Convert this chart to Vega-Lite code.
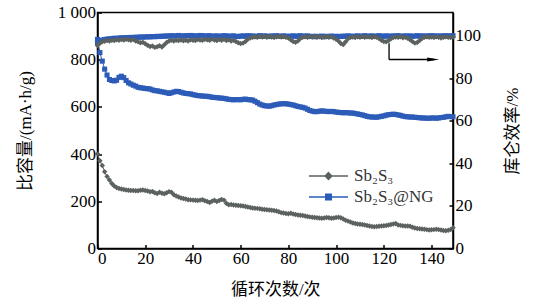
{
  "$schema": "https://vega.github.io/schema/vega-lite/v6.json",
  "width": 355.5,
  "height": 236,
  "autosize": {"type": "none"},
  "padding": {"left": 97.5, "top": 12.5, "right": 81, "bottom": 51.5},
  "background": "white",
  "config": {
    "view": {"stroke": "black", "strokeWidth": 1.5},
    "font": "Liberation Serif",
    "axis": {
      "domainColor": "black", "domainWidth": 1.5, "tickColor": "black", "tickWidth": 1.5,
      "tickSize": -4, "grid": false, "labelFont": "Liberation Serif", "labelFontSize": 17,
      "labelColor": "black", "titleFont": "Liberation Serif, Noto Sans CJK SC", "titleFontSize": 17,
      "titleFontWeight": "normal", "titleColor": "black"
    },
    "legend": {"labelFont": "Liberation Serif", "labelFontSize": 17, "labelColor": "#333"}
  },
  "datasets": {
    "arrow": [
      {"n": 122.2, "n2": 122.2, "ce": 96.5, "ce2": 88.9},
      {"n": 122.2, "n2": 141, "ce": 88.9, "ce2": 88.9}
    ],
    "head": [{"n": 140.7, "ce": 88.9}]
  },
  "data": {"values": [
{"n":0,"s":"Sb₂S₃@NG","cap":886,"ce":96.8},{"n":1,"s":"Sb₂S₃@NG","cap":830,"ce":97.6},{"n":2,"s":"Sb₂S₃@NG","cap":794,"ce":98.0},{"n":3,"s":"Sb₂S₃@NG","cap":760,"ce":98.3},{"n":4,"s":"Sb₂S₃@NG","cap":735,"ce":98.5},{"n":5,"s":"Sb₂S₃@NG","cap":716,"ce":98.6},{"n":6,"s":"Sb₂S₃@NG","cap":712,"ce":98.7},{"n":7,"s":"Sb₂S₃@NG","cap":710,"ce":98.9},{"n":8,"s":"Sb₂S₃@NG","cap":713,"ce":98.8},{"n":9,"s":"Sb₂S₃@NG","cap":725,"ce":99.0},
{"n":10,"s":"Sb₂S₃@NG","cap":730,"ce":99.1},{"n":11,"s":"Sb₂S₃@NG","cap":724,"ce":99.0},{"n":12,"s":"Sb₂S₃@NG","cap":712,"ce":99.2},{"n":13,"s":"Sb₂S₃@NG","cap":702,"ce":99.1},{"n":14,"s":"Sb₂S₃@NG","cap":697,"ce":99.3},{"n":15,"s":"Sb₂S₃@NG","cap":692,"ce":99.2},{"n":16,"s":"Sb₂S₃@NG","cap":688,"ce":99.4},{"n":17,"s":"Sb₂S₃@NG","cap":683,"ce":99.3},{"n":18,"s":"Sb₂S₃@NG","cap":681,"ce":99.5},{"n":19,"s":"Sb₂S₃@NG","cap":680,"ce":99.4},
{"n":20,"s":"Sb₂S₃@NG","cap":678,"ce":99.5},{"n":21,"s":"Sb₂S₃@NG","cap":677,"ce":99.6},{"n":22,"s":"Sb₂S₃@NG","cap":676,"ce":99.5},{"n":23,"s":"Sb₂S₃@NG","cap":672,"ce":99.7},{"n":24,"s":"Sb₂S₃@NG","cap":669,"ce":99.6},{"n":25,"s":"Sb₂S₃@NG","cap":668,"ce":99.8},{"n":26,"s":"Sb₂S₃@NG","cap":666,"ce":99.7},{"n":27,"s":"Sb₂S₃@NG","cap":664,"ce":99.9},{"n":28,"s":"Sb₂S₃@NG","cap":662,"ce":99.8},{"n":29,"s":"Sb₂S₃@NG","cap":660,"ce":100.0},
{"n":30,"s":"Sb₂S₃@NG","cap":657,"ce":99.9},{"n":31,"s":"Sb₂S₃@NG","cap":660,"ce":100.1},{"n":32,"s":"Sb₂S₃@NG","cap":663,"ce":99.9},{"n":33,"s":"Sb₂S₃@NG","cap":666,"ce":100.0},{"n":34,"s":"Sb₂S₃@NG","cap":665,"ce":100.2},{"n":35,"s":"Sb₂S₃@NG","cap":662,"ce":100.0},{"n":36,"s":"Sb₂S₃@NG","cap":659,"ce":99.9},{"n":37,"s":"Sb₂S₃@NG","cap":657,"ce":100.1},{"n":38,"s":"Sb₂S₃@NG","cap":656,"ce":100.0},{"n":39,"s":"Sb₂S₃@NG","cap":655,"ce":100.2},
{"n":40,"s":"Sb₂S₃@NG","cap":652,"ce":100.1},{"n":41,"s":"Sb₂S₃@NG","cap":650,"ce":99.9},{"n":42,"s":"Sb₂S₃@NG","cap":648,"ce":100.0},{"n":43,"s":"Sb₂S₃@NG","cap":647,"ce":100.2},{"n":44,"s":"Sb₂S₃@NG","cap":646,"ce":100.1},{"n":45,"s":"Sb₂S₃@NG","cap":645,"ce":99.9},{"n":46,"s":"Sb₂S₃@NG","cap":645,"ce":100.0},{"n":47,"s":"Sb₂S₃@NG","cap":643,"ce":100.1},{"n":48,"s":"Sb₂S₃@NG","cap":641,"ce":99.8},{"n":49,"s":"Sb₂S₃@NG","cap":640,"ce":99.9},
{"n":50,"s":"Sb₂S₃@NG","cap":639,"ce":100.0},{"n":51,"s":"Sb₂S₃@NG","cap":638,"ce":99.8},{"n":52,"s":"Sb₂S₃@NG","cap":637,"ce":99.9},{"n":53,"s":"Sb₂S₃@NG","cap":636,"ce":100.1},{"n":54,"s":"Sb₂S₃@NG","cap":634,"ce":100.0},{"n":55,"s":"Sb₂S₃@NG","cap":632,"ce":99.8},{"n":56,"s":"Sb₂S₃@NG","cap":631,"ce":99.9},{"n":57,"s":"Sb₂S₃@NG","cap":630,"ce":100.0},{"n":58,"s":"Sb₂S₃@NG","cap":631,"ce":99.8},{"n":59,"s":"Sb₂S₃@NG","cap":631,"ce":99.7},
{"n":60,"s":"Sb₂S₃@NG","cap":630,"ce":99.9},{"n":61,"s":"Sb₂S₃@NG","cap":632,"ce":100.0},{"n":62,"s":"Sb₂S₃@NG","cap":633,"ce":99.8},{"n":63,"s":"Sb₂S₃@NG","cap":631,"ce":100.1},{"n":64,"s":"Sb₂S₃@NG","cap":630,"ce":99.9},{"n":65,"s":"Sb₂S₃@NG","cap":629,"ce":100.0},{"n":66,"s":"Sb₂S₃@NG","cap":624,"ce":99.7},{"n":67,"s":"Sb₂S₃@NG","cap":618,"ce":99.9},{"n":68,"s":"Sb₂S₃@NG","cap":612,"ce":100.1},{"n":69,"s":"Sb₂S₃@NG","cap":608,"ce":99.8},
{"n":70,"s":"Sb₂S₃@NG","cap":605,"ce":100.0},{"n":71,"s":"Sb₂S₃@NG","cap":604,"ce":99.9},{"n":72,"s":"Sb₂S₃@NG","cap":603,"ce":99.7},{"n":73,"s":"Sb₂S₃@NG","cap":605,"ce":100.0},{"n":74,"s":"Sb₂S₃@NG","cap":608,"ce":99.8},{"n":75,"s":"Sb₂S₃@NG","cap":610,"ce":100.1},{"n":76,"s":"Sb₂S₃@NG","cap":612,"ce":99.9},{"n":77,"s":"Sb₂S₃@NG","cap":613,"ce":99.8},{"n":78,"s":"Sb₂S₃@NG","cap":614,"ce":100.0},{"n":79,"s":"Sb₂S₃@NG","cap":613,"ce":99.9},
{"n":80,"s":"Sb₂S₃@NG","cap":612,"ce":99.7},{"n":81,"s":"Sb₂S₃@NG","cap":610,"ce":99.9},{"n":82,"s":"Sb₂S₃@NG","cap":608,"ce":100.0},{"n":83,"s":"Sb₂S₃@NG","cap":605,"ce":99.8},{"n":84,"s":"Sb₂S₃@NG","cap":602,"ce":99.9},{"n":85,"s":"Sb₂S₃@NG","cap":600,"ce":100.1},{"n":86,"s":"Sb₂S₃@NG","cap":598,"ce":99.8},{"n":87,"s":"Sb₂S₃@NG","cap":595,"ce":99.9},{"n":88,"s":"Sb₂S₃@NG","cap":590,"ce":100.0},{"n":89,"s":"Sb₂S₃@NG","cap":585,"ce":99.7},
{"n":90,"s":"Sb₂S₃@NG","cap":582,"ce":99.8},{"n":91,"s":"Sb₂S₃@NG","cap":580,"ce":99.6},{"n":92,"s":"Sb₂S₃@NG","cap":580,"ce":99.8},{"n":93,"s":"Sb₂S₃@NG","cap":582,"ce":99.7},{"n":94,"s":"Sb₂S₃@NG","cap":583,"ce":99.9},{"n":95,"s":"Sb₂S₃@NG","cap":582,"ce":99.6},{"n":96,"s":"Sb₂S₃@NG","cap":581,"ce":99.8},{"n":97,"s":"Sb₂S₃@NG","cap":580,"ce":99.7},{"n":98,"s":"Sb₂S₃@NG","cap":581,"ce":99.9},{"n":99,"s":"Sb₂S₃@NG","cap":580,"ce":99.8},
{"n":100,"s":"Sb₂S₃@NG","cap":578,"ce":99.6},{"n":101,"s":"Sb₂S₃@NG","cap":577,"ce":99.8},{"n":102,"s":"Sb₂S₃@NG","cap":576,"ce":99.7},{"n":103,"s":"Sb₂S₃@NG","cap":575,"ce":99.9},{"n":104,"s":"Sb₂S₃@NG","cap":576,"ce":99.8},{"n":105,"s":"Sb₂S₃@NG","cap":575,"ce":100.0},{"n":106,"s":"Sb₂S₃@NG","cap":574,"ce":99.9},{"n":107,"s":"Sb₂S₃@NG","cap":574,"ce":99.7},{"n":108,"s":"Sb₂S₃@NG","cap":572,"ce":99.9},{"n":109,"s":"Sb₂S₃@NG","cap":570,"ce":100.0},
{"n":110,"s":"Sb₂S₃@NG","cap":568,"ce":99.8},{"n":111,"s":"Sb₂S₃@NG","cap":566,"ce":99.9},{"n":112,"s":"Sb₂S₃@NG","cap":563,"ce":100.1},{"n":113,"s":"Sb₂S₃@NG","cap":560,"ce":99.8},{"n":114,"s":"Sb₂S₃@NG","cap":558,"ce":99.9},{"n":115,"s":"Sb₂S₃@NG","cap":557,"ce":100.0},{"n":116,"s":"Sb₂S₃@NG","cap":557,"ce":99.8},{"n":117,"s":"Sb₂S₃@NG","cap":556,"ce":99.9},{"n":118,"s":"Sb₂S₃@NG","cap":558,"ce":100.1},{"n":119,"s":"Sb₂S₃@NG","cap":560,"ce":99.9},
{"n":120,"s":"Sb₂S₃@NG","cap":562,"ce":99.8},{"n":121,"s":"Sb₂S₃@NG","cap":565,"ce":100.0},{"n":122,"s":"Sb₂S₃@NG","cap":567,"ce":99.9},{"n":123,"s":"Sb₂S₃@NG","cap":568,"ce":99.8},{"n":124,"s":"Sb₂S₃@NG","cap":569,"ce":100.0},{"n":125,"s":"Sb₂S₃@NG","cap":568,"ce":99.9},{"n":126,"s":"Sb₂S₃@NG","cap":566,"ce":100.1},{"n":127,"s":"Sb₂S₃@NG","cap":564,"ce":99.9},{"n":128,"s":"Sb₂S₃@NG","cap":561,"ce":99.8},{"n":129,"s":"Sb₂S₃@NG","cap":559,"ce":100.0},
{"n":130,"s":"Sb₂S₃@NG","cap":558,"ce":99.9},{"n":131,"s":"Sb₂S₃@NG","cap":557,"ce":100.0},{"n":132,"s":"Sb₂S₃@NG","cap":557,"ce":99.8},{"n":133,"s":"Sb₂S₃@NG","cap":556,"ce":99.9},{"n":134,"s":"Sb₂S₃@NG","cap":555,"ce":100.1},{"n":135,"s":"Sb₂S₃@NG","cap":554,"ce":99.9},{"n":136,"s":"Sb₂S₃@NG","cap":553,"ce":100.0},{"n":137,"s":"Sb₂S₃@NG","cap":553,"ce":99.8},{"n":138,"s":"Sb₂S₃@NG","cap":552,"ce":100.0},{"n":139,"s":"Sb₂S₃@NG","cap":552,"ce":99.9},
{"n":140,"s":"Sb₂S₃@NG","cap":553,"ce":100.1},{"n":141,"s":"Sb₂S₃@NG","cap":553,"ce":99.9},{"n":142,"s":"Sb₂S₃@NG","cap":552,"ce":100.0},{"n":143,"s":"Sb₂S₃@NG","cap":553,"ce":99.8},{"n":144,"s":"Sb₂S₃@NG","cap":555,"ce":100.0},{"n":145,"s":"Sb₂S₃@NG","cap":556,"ce":99.9},{"n":146,"s":"Sb₂S₃@NG","cap":558,"ce":100.1},{"n":147,"s":"Sb₂S₃@NG","cap":560,"ce":99.9},{"n":148,"s":"Sb₂S₃@NG","cap":559,"ce":100.0},{"n":149,"s":"Sb₂S₃@NG","cap":558,"ce":100.1},
{"n":0,"s":"Sb₂S₃","cap":401,"ce":95.5},{"n":1,"s":"Sb₂S₃","cap":372,"ce":96.5},{"n":2,"s":"Sb₂S₃","cap":352,"ce":97.2},{"n":3,"s":"Sb₂S₃","cap":325,"ce":97.5},{"n":4,"s":"Sb₂S₃","cap":305,"ce":97.8},{"n":5,"s":"Sb₂S₃","cap":290,"ce":97.6},{"n":6,"s":"Sb₂S₃","cap":275,"ce":98.0},{"n":7,"s":"Sb₂S₃","cap":265,"ce":97.8},{"n":8,"s":"Sb₂S₃","cap":258,"ce":98.2},{"n":9,"s":"Sb₂S₃","cap":254,"ce":98.0},
{"n":10,"s":"Sb₂S₃","cap":252,"ce":98.3},{"n":11,"s":"Sb₂S₃","cap":250,"ce":98.1},{"n":12,"s":"Sb₂S₃","cap":248,"ce":98.4},{"n":13,"s":"Sb₂S₃","cap":247,"ce":98.2},{"n":14,"s":"Sb₂S₃","cap":246,"ce":97.9},{"n":15,"s":"Sb₂S₃","cap":246,"ce":98.3},{"n":16,"s":"Sb₂S₃","cap":245,"ce":97.6},{"n":17,"s":"Sb₂S₃","cap":245,"ce":97.2},{"n":18,"s":"Sb₂S₃","cap":247,"ce":96.8},{"n":19,"s":"Sb₂S₃","cap":248,"ce":97.0},
{"n":20,"s":"Sb₂S₃","cap":246,"ce":96.3},{"n":21,"s":"Sb₂S₃","cap":244,"ce":95.6},{"n":22,"s":"Sb₂S₃","cap":240,"ce":95.0},{"n":23,"s":"Sb₂S₃","cap":242,"ce":95.2},{"n":24,"s":"Sb₂S₃","cap":236,"ce":94.6},{"n":25,"s":"Sb₂S₃","cap":233,"ce":94.9},{"n":26,"s":"Sb₂S₃","cap":238,"ce":95.4},{"n":27,"s":"Sb₂S₃","cap":234,"ce":94.8},{"n":28,"s":"Sb₂S₃","cap":232,"ce":95.8},{"n":29,"s":"Sb₂S₃","cap":236,"ce":96.9},
{"n":30,"s":"Sb₂S₃","cap":241,"ce":97.6},{"n":31,"s":"Sb₂S₃","cap":238,"ce":97.9},{"n":32,"s":"Sb₂S₃","cap":228,"ce":97.6},{"n":33,"s":"Sb₂S₃","cap":222,"ce":98.0},{"n":34,"s":"Sb₂S₃","cap":218,"ce":97.8},{"n":35,"s":"Sb₂S₃","cap":214,"ce":98.1},{"n":36,"s":"Sb₂S₃","cap":212,"ce":97.7},{"n":37,"s":"Sb₂S₃","cap":210,"ce":98.0},{"n":38,"s":"Sb₂S₃","cap":207,"ce":97.6},{"n":39,"s":"Sb₂S₃","cap":206,"ce":98.2},
{"n":40,"s":"Sb₂S₃","cap":205,"ce":98.0},{"n":41,"s":"Sb₂S₃","cap":204,"ce":97.8},{"n":42,"s":"Sb₂S₃","cap":203,"ce":98.3},{"n":43,"s":"Sb₂S₃","cap":205,"ce":98.1},{"n":44,"s":"Sb₂S₃","cap":207,"ce":97.9},{"n":45,"s":"Sb₂S₃","cap":202,"ce":98.4},{"n":46,"s":"Sb₂S₃","cap":199,"ce":98.2},{"n":47,"s":"Sb₂S₃","cap":195,"ce":98.0},{"n":48,"s":"Sb₂S₃","cap":200,"ce":98.5},{"n":49,"s":"Sb₂S₃","cap":204,"ce":98.1},
{"n":50,"s":"Sb₂S₃","cap":199,"ce":97.8},{"n":51,"s":"Sb₂S₃","cap":203,"ce":98.3},{"n":52,"s":"Sb₂S₃","cap":208,"ce":98.0},{"n":53,"s":"Sb₂S₃","cap":205,"ce":98.4},{"n":54,"s":"Sb₂S₃","cap":192,"ce":97.8},{"n":55,"s":"Sb₂S₃","cap":185,"ce":98.2},{"n":56,"s":"Sb₂S₃","cap":186,"ce":97.6},{"n":57,"s":"Sb₂S₃","cap":184,"ce":97.9},{"n":58,"s":"Sb₂S₃","cap":183,"ce":97.4},{"n":59,"s":"Sb₂S₃","cap":182,"ce":96.8},
{"n":60,"s":"Sb₂S₃","cap":181,"ce":96.4},{"n":61,"s":"Sb₂S₃","cap":180,"ce":96.6},{"n":62,"s":"Sb₂S₃","cap":178,"ce":97.4},{"n":63,"s":"Sb₂S₃","cap":176,"ce":98.4},{"n":64,"s":"Sb₂S₃","cap":174,"ce":99.0},{"n":65,"s":"Sb₂S₃","cap":172,"ce":99.4},{"n":66,"s":"Sb₂S₃","cap":171,"ce":99.6},{"n":67,"s":"Sb₂S₃","cap":170,"ce":99.3},{"n":68,"s":"Sb₂S₃","cap":168,"ce":99.7},{"n":69,"s":"Sb₂S₃","cap":166,"ce":99.5},
{"n":70,"s":"Sb₂S₃","cap":165,"ce":99.8},{"n":71,"s":"Sb₂S₃","cap":164,"ce":99.4},{"n":72,"s":"Sb₂S₃","cap":163,"ce":99.7},{"n":73,"s":"Sb₂S₃","cap":162,"ce":99.5},{"n":74,"s":"Sb₂S₃","cap":161,"ce":99.2},{"n":75,"s":"Sb₂S₃","cap":159,"ce":99.6},{"n":76,"s":"Sb₂S₃","cap":156,"ce":99.8},{"n":77,"s":"Sb₂S₃","cap":152,"ce":99.5},{"n":78,"s":"Sb₂S₃","cap":150,"ce":99.7},{"n":79,"s":"Sb₂S₃","cap":148,"ce":99.3},
{"n":80,"s":"Sb₂S₃","cap":147,"ce":99.0},{"n":81,"s":"Sb₂S₃","cap":149,"ce":98.2},{"n":82,"s":"Sb₂S₃","cap":146,"ce":97.4},{"n":83,"s":"Sb₂S₃","cap":144,"ce":97.0},{"n":84,"s":"Sb₂S₃","cap":142,"ce":97.6},{"n":85,"s":"Sb₂S₃","cap":141,"ce":98.8},{"n":86,"s":"Sb₂S₃","cap":140,"ce":99.4},{"n":87,"s":"Sb₂S₃","cap":138,"ce":99.6},{"n":88,"s":"Sb₂S₃","cap":136,"ce":99.3},{"n":89,"s":"Sb₂S₃","cap":134,"ce":99.7},
{"n":90,"s":"Sb₂S₃","cap":132,"ce":99.5},{"n":91,"s":"Sb₂S₃","cap":131,"ce":99.8},{"n":92,"s":"Sb₂S₃","cap":130,"ce":99.4},{"n":93,"s":"Sb₂S₃","cap":129,"ce":99.6},{"n":94,"s":"Sb₂S₃","cap":128,"ce":99.2},{"n":95,"s":"Sb₂S₃","cap":129,"ce":99.5},{"n":96,"s":"Sb₂S₃","cap":131,"ce":99.7},{"n":97,"s":"Sb₂S₃","cap":130,"ce":99.4},{"n":98,"s":"Sb₂S₃","cap":128,"ce":99.6},{"n":99,"s":"Sb₂S₃","cap":129,"ce":99.0},
{"n":100,"s":"Sb₂S₃","cap":131,"ce":98.4},{"n":101,"s":"Sb₂S₃","cap":132,"ce":97.6},{"n":102,"s":"Sb₂S₃","cap":130,"ce":96.4},{"n":103,"s":"Sb₂S₃","cap":125,"ce":96.0},{"n":104,"s":"Sb₂S₃","cap":120,"ce":97.2},{"n":105,"s":"Sb₂S₃","cap":116,"ce":98.6},{"n":106,"s":"Sb₂S₃","cap":112,"ce":99.3},{"n":107,"s":"Sb₂S₃","cap":108,"ce":99.5},{"n":108,"s":"Sb₂S₃","cap":106,"ce":99.2},{"n":109,"s":"Sb₂S₃","cap":104,"ce":99.6},
{"n":110,"s":"Sb₂S₃","cap":103,"ce":99.4},{"n":111,"s":"Sb₂S₃","cap":102,"ce":99.7},{"n":112,"s":"Sb₂S₃","cap":100,"ce":99.3},{"n":113,"s":"Sb₂S₃","cap":97,"ce":99.6},{"n":114,"s":"Sb₂S₃","cap":95,"ce":99.5},{"n":115,"s":"Sb₂S₃","cap":93,"ce":99.2},{"n":116,"s":"Sb₂S₃","cap":92,"ce":99.6},{"n":117,"s":"Sb₂S₃","cap":93,"ce":99.4},{"n":118,"s":"Sb₂S₃","cap":94,"ce":98.8},{"n":119,"s":"Sb₂S₃","cap":95,"ce":98.0},
{"n":120,"s":"Sb₂S₃","cap":96,"ce":97.4},{"n":121,"s":"Sb₂S₃","cap":97,"ce":97.2},{"n":122,"s":"Sb₂S₃","cap":100,"ce":97.8},{"n":123,"s":"Sb₂S₃","cap":102,"ce":98.6},{"n":124,"s":"Sb₂S₃","cap":104,"ce":99.2},{"n":125,"s":"Sb₂S₃","cap":106,"ce":99.5},{"n":126,"s":"Sb₂S₃","cap":100,"ce":99.3},{"n":127,"s":"Sb₂S₃","cap":98,"ce":99.6},{"n":128,"s":"Sb₂S₃","cap":96,"ce":99.1},{"n":129,"s":"Sb₂S₃","cap":95,"ce":99.4},
{"n":130,"s":"Sb₂S₃","cap":95,"ce":98.9},{"n":131,"s":"Sb₂S₃","cap":94,"ce":98.2},{"n":132,"s":"Sb₂S₃","cap":90,"ce":97.4},{"n":133,"s":"Sb₂S₃","cap":87,"ce":96.6},{"n":134,"s":"Sb₂S₃","cap":85,"ce":96.9},{"n":135,"s":"Sb₂S₃","cap":84,"ce":97.8},{"n":136,"s":"Sb₂S₃","cap":83,"ce":98.8},{"n":137,"s":"Sb₂S₃","cap":82,"ce":99.4},{"n":138,"s":"Sb₂S₃","cap":80,"ce":99.6},{"n":139,"s":"Sb₂S₃","cap":78,"ce":99.3},
{"n":140,"s":"Sb₂S₃","cap":79,"ce":99.5},{"n":141,"s":"Sb₂S₃","cap":80,"ce":99.2},{"n":142,"s":"Sb₂S₃","cap":82,"ce":99.6},{"n":143,"s":"Sb₂S₃","cap":80,"ce":99.4},{"n":144,"s":"Sb₂S₃","cap":78,"ce":99.0},{"n":145,"s":"Sb₂S₃","cap":76,"ce":99.3},{"n":146,"s":"Sb₂S₃","cap":75,"ce":99.6},{"n":147,"s":"Sb₂S₃","cap":77,"ce":99.4},{"n":148,"s":"Sb₂S₃","cap":80,"ce":99.2},{"n":149,"s":"Sb₂S₃","cap":88,"ce":99.5}
  ]},
  "encoding": {
    "x": {"field": "n", "type": "quantitative", "scale": {"domain": [0, 149], "nice": false},
          "axis": {"values": [0, 20, 40, 60, 80, 100, 120, 140], "title": "循环次数/次", "labelPadding": 6,
                   "titleX": 177.75, "titleY": 40.5, "titleBaseline": "middle", "titleAlign": "center"}},
    "color": {"field": "s", "type": "nominal",
              "scale": {"domain": ["Sb₂S₃", "Sb₂S₃@NG"], "range": ["#5b625f", "#2d5cb8"]},
              "legend": {"orient": "none", "legendX": 218.5, "legendY": 151, "title": null,
                         "symbolSize": 529, "symbolStrokeWidth": 1.5, "rowPadding": 0, "labelOffset": 13,
                         "labelFont": "Liberation Serif", "labelFontSize": 17, "labelColor": "#333",
                         "encode": {"symbols": {"update": {
                           "shape": {"signal": "datum.value == 'Sb₂S₃' ? 'M-1.7,0H1.7M0,-0.29L0.29,0L0,0.29L-0.29,0Z' : 'M-1.7,0H1.7M-0.24,-0.24H0.24V0.24H-0.24Z'"},
                           "fill": {"signal": "datum.value == 'Sb₂S₃' ? '#5b625f' : '#2d5cb8'"},
                           "stroke": {"signal": "datum.value == 'Sb₂S₃' ? '#5b625f' : '#1f2f9e'"},
                           "opacity": {"value": 1}, "fillOpacity": {"value": 1}, "strokeOpacity": {"value": 1}}}}}}
  },
  "layer": [
    {
      "encoding": {
        "y": {"field": "cap", "type": "quantitative", "scale": {"domain": [0, 1000], "nice": false},
              "axis": {"orient": "left", "values": [0, 200, 400, 600, 800, 1000], "title": "比容量/(mA·h/g)",
                       "labelExpr": "datum.value == 1000 ? '1 000' : datum.label", "labelPadding": 6,
                       "titleX": -72, "titleY": 118, "titleAngle": -90, "titleBaseline": "middle", "titleAlign": "center"}}
      },
      "layer": [
        {"mark": {"type": "line", "strokeWidth": 1}},
        {"transform": [{"filter": "datum.s == 'Sb₂S₃@NG'"}],
         "mark": {"type": "point", "filled": true, "opacity": 1, "size": 26, "shape": "square"}},
        {"transform": [{"filter": "datum.s == 'Sb₂S₃'"}],
         "mark": {"type": "point", "filled": true, "opacity": 1, "size": 30, "shape": "diamond"}}
      ]
    },
    {
      "encoding": {
        "y": {"field": "ce", "type": "quantitative", "scale": {"domain": [0, 111], "nice": false},
              "axis": {"orient": "right", "values": [0, 20, 40, 60, 80, 100], "title": "库仑效率/%",
                       "labelPadding": 6, "titleX": 59, "titleY": 118, "titleAngle": -90,
                       "titleBaseline": "middle", "titleAlign": "center"}}
      },
      "layer": [
        {"mark": {"type": "line", "strokeWidth": 1}},
        {"transform": [{"filter": "datum.s == 'Sb₂S₃@NG'"}],
         "mark": {"type": "point", "filled": true, "opacity": 1, "size": 26, "shape": "square"}},
        {"transform": [{"filter": "datum.s == 'Sb₂S₃'"}],
         "mark": {"type": "point", "filled": true, "opacity": 1, "size": 30, "shape": "diamond"}},
        {"data": {"name": "arrow"},
         "mark": {"type": "rule", "strokeWidth": 1.3},
         "encoding": {"x2": {"field": "n2"}, "y2": {"field": "ce2"}, "color": {"value": "black"}}},
        {"data": {"name": "head"},
         "mark": {"type": "point", "filled": true, "opacity": 1, "size": 144, "shape": "M-1,-0.35L1,0L-1,0.35Z"},
         "encoding": {"color": {"value": "black"}}}
      ]
    }
  ],
  "resolve": {"scale": {"y": "independent"}}
}
